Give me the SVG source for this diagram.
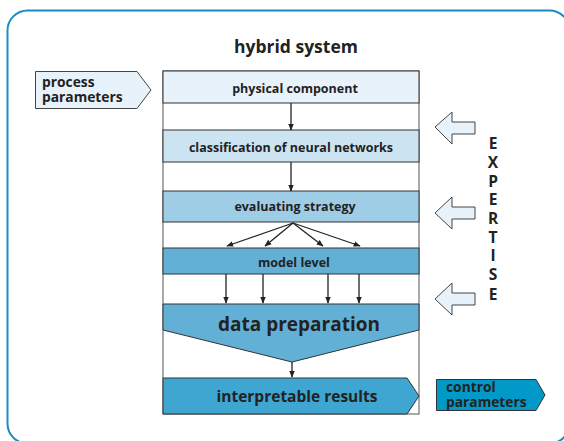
<svg xmlns="http://www.w3.org/2000/svg" width="564" height="441" viewBox="0 0 564 441">
<defs>
<style>
.t{font-family:"Open Sans","Noto Sans","Liberation Sans",sans-serif;font-weight:bold;fill:#222;}
.c{text-anchor:middle;}
.box{stroke:#333;stroke-width:1;}
.con{stroke:#222;stroke-width:1.3;fill:none;}
.exp{fill:#e8f2fa;stroke:#444;stroke-width:1;}
</style>
<marker id="ah" viewBox="0 0 10 10" refX="9" refY="5" markerWidth="7" markerHeight="7" markerUnits="userSpaceOnUse" orient="auto">
<path d="M0,1 L10,5 L0,9 Z" fill="#222"/>
</marker>
</defs>
<rect x="0" y="0" width="564" height="441" fill="#fff"/>
<rect id="frame" x="7.5" y="10.5" width="562" height="433" rx="20" fill="#fff" stroke="#1a8cc0" stroke-width="2"/>
<text class="t c" x="296" y="53" font-size="17.5">hybrid system</text>
<g id="system">
<rect x="163" y="71" width="256" height="343" fill="#fff" stroke="#555" stroke-width="1"/>
</g>
<g id="physical"><rect class="box" x="163" y="71" width="256" height="32" fill="#e8f2fa"/><text class="t c" x="295" y="92.5" font-size="12.5">physical component</text></g>
<g id="classification"><rect class="box" x="163" y="130" width="256" height="32" fill="#cce4f1"/><text class="t c" x="291" y="151.5" font-size="12.5">classification of neural networks</text></g>
<g id="evaluating"><rect class="box" x="163" y="191" width="256" height="31" fill="#9fcde6"/><text class="t c" x="295" y="210.5" font-size="12.5">evaluating strategy</text></g>
<g id="model"><rect class="box" x="163" y="248" width="256" height="26" fill="#63b0d6"/><text class="t c" x="294" y="266.5" font-size="12.5">model level</text></g>
<g id="dataprep"><path class="box" d="M163,304 H419 V330 L292,362 L163,330 Z" fill="#63b0d6"/><text class="t c" x="299" y="331" font-size="19">data preparation</text></g>
<g id="results"><path class="box" d="M163,378 H407 L419,396 L407,414 H163 Z" fill="#3ea6d0"/><text class="t c" x="297" y="402" font-size="15.5">interpretable results</text></g>
<g id="process"><path d="M35.5,71.5 H137 L151,90 L137,108.5 H35.5 Z" fill="#e8f2fa" stroke="#444" stroke-width="1"/><text class="t" x="42" y="87" font-size="13.8">process<tspan x="42" dy="14.5">parameters</tspan></text></g>
<g id="control"><path d="M436.5,379.5 H536 L545,395 L536,410.5 H436.5 Z" fill="#0099c8" stroke="#333" stroke-width="1"/><text class="t" x="446" y="392" font-size="13.8">control<tspan x="446" dy="14.5">parameters</tspan></text></g>
<g id="expertise">
<path class="exp" d="M435,127 L452,112 V122 H475 V134 H452 V144 Z"/>
<path class="exp" d="M435,213 L452,197 V207 H475 V219 H452 V229 Z"/>
<path class="exp" d="M435,299 L452,283 V293 H475 V305 H452 V315 Z"/>
<text class="t c" font-size="15.5" x="493" y="149">E<tspan x="493" dy="19">X</tspan><tspan x="493" dy="18.5">P</tspan><tspan x="493" dy="18.5">E</tspan><tspan x="493" dy="19">R</tspan><tspan x="493" dy="18.5">T</tspan><tspan x="493" dy="18.5">I</tspan><tspan x="493" dy="19">S</tspan><tspan x="493" dy="19.5">E</tspan></text>
</g>
<g id="connectors">
<line class="con" x1="291" y1="103" x2="291" y2="130" marker-end="url(#ah)"/>
<line class="con" x1="291" y1="162" x2="291" y2="191" marker-end="url(#ah)"/>
<line class="con" x1="293" y1="223" x2="227" y2="246" marker-end="url(#ah)"/>
<line class="con" x1="293" y1="223" x2="265" y2="246" marker-end="url(#ah)"/>
<line class="con" x1="293" y1="223" x2="323" y2="246" marker-end="url(#ah)"/>
<line class="con" x1="293" y1="223" x2="360" y2="246" marker-end="url(#ah)"/>
<line class="con" x1="226" y1="274" x2="226" y2="303" marker-end="url(#ah)"/>
<line class="con" x1="263" y1="274" x2="263" y2="303" marker-end="url(#ah)"/>
<line class="con" x1="328" y1="274" x2="328" y2="303" marker-end="url(#ah)"/>
<line class="con" x1="359" y1="274" x2="359" y2="303" marker-end="url(#ah)"/>
<line class="con" x1="292" y1="362" x2="292" y2="377" marker-end="url(#ah)"/>
</g>
</svg>
